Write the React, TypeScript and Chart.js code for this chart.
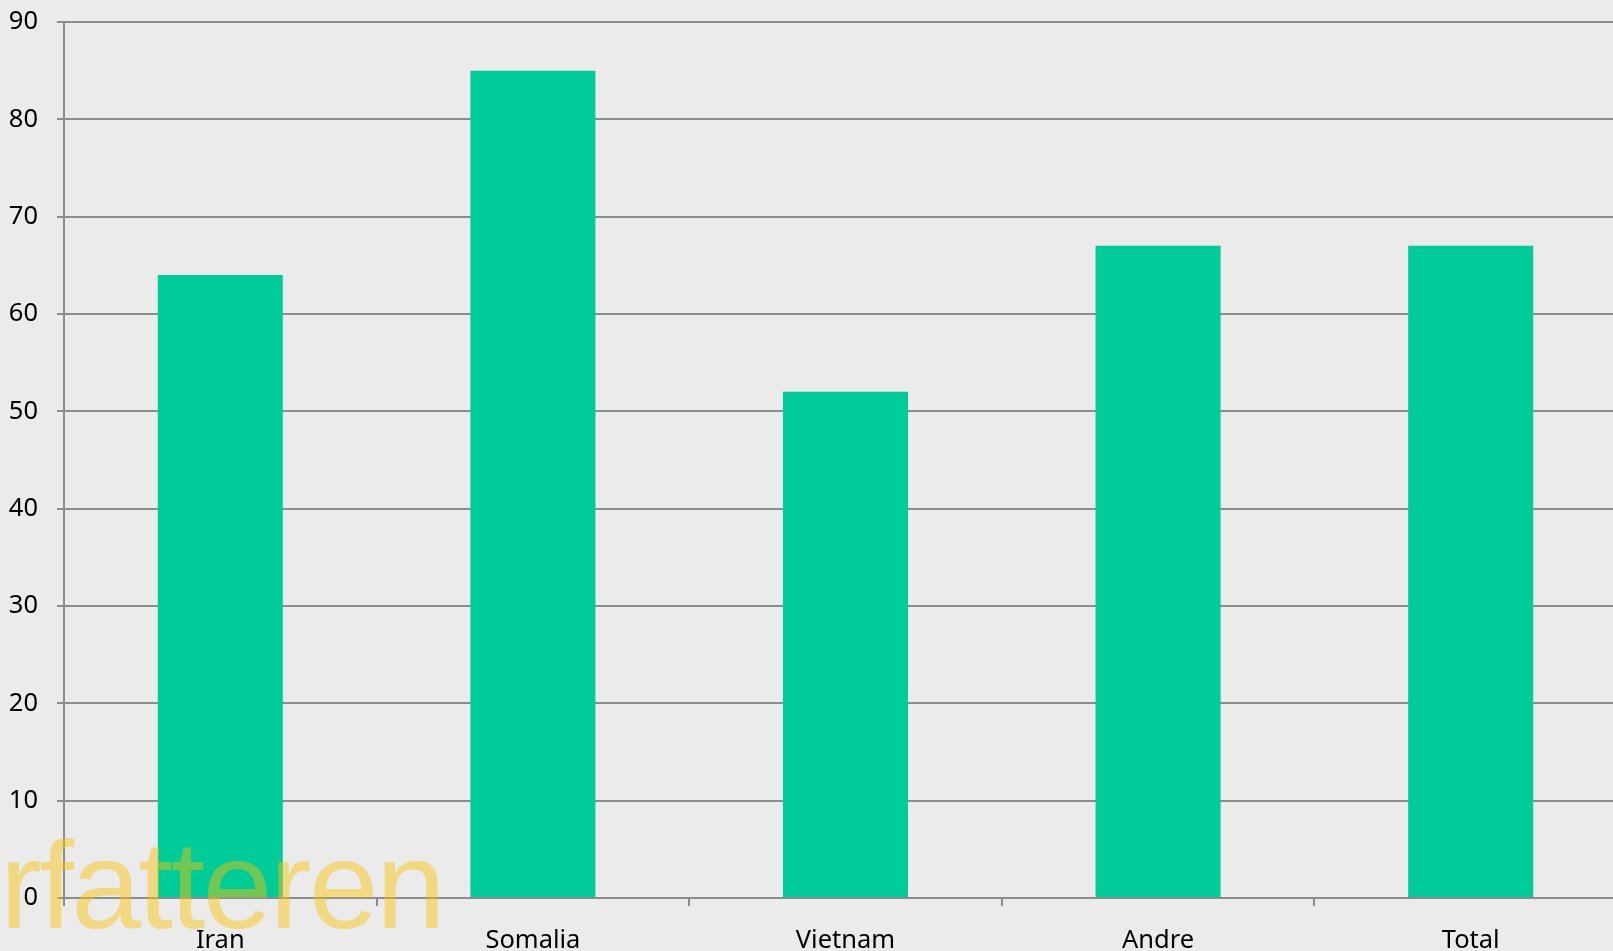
import React, { useEffect, useRef } from "react";
import { Chart, registerables } from "chart.js";

Chart.register(...registerables);

const categories = ["Iran", "Somalia", "Vietnam", "Andre", "Total"];
const values = [64, 85, 52, 67, 67];
const yMin = 0;
const yMax = 90;
const yStep = 10;
const watermark = "rfatteren";

export default function App() {
  const ref = useRef<HTMLCanvasElement | null>(null);

  useEffect(() => {
    document.body.style.margin = "0";
    const ctx = ref.current;
    if (!ctx) return;
    const gridColor = "#8c8c8c";
    const font = { family: "'Noto Sans', 'Open Sans', sans-serif", size: 25.5 };
    const chart = new Chart(ctx, {
      type: "bar",
      data: {
        labels: categories,
        datasets: [
          {
            data: values,
            backgroundColor: "#00cc99",
            borderWidth: 0,
            categoryPercentage: 1,
            barPercentage: 0.4,
          },
        ],
      },
      options: {
        animation: false,
        responsive: false,
        devicePixelRatio: 1,
        layout: { padding: { top: 22, left: 0, right: 0, bottom: 0 } },
        plugins: { legend: { display: false }, tooltip: { enabled: false } },
        scales: {
          x: {
            grid: {
              offset: true,
              drawOnChartArea: false,
              drawTicks: true,
              tickLength: 8,
              color: gridColor,
              lineWidth: 2,
            },
            border: { display: true, color: gridColor, width: 2 },
            ticks: { color: "#000", font, padding: 19, maxRotation: 0 },
            afterFit: (s: any) => {
              s.height = 53;
              s.paddingLeft = 0;
              s.paddingRight = 0;
            },
          },
          y: {
            min: yMin,
            max: yMax,
            grid: { color: gridColor, lineWidth: 2, tickLength: 7 },
            border: { display: true, color: gridColor, width: 2 },
            ticks: { stepSize: yStep, color: "#000", font, padding: 19 },
            afterFit: (s: any) => {
              s.width = 64;
              s.paddingTop = 0;
              s.paddingBottom = 0;
            },
          },
        },
      },
    });
    return () => chart.destroy();
  }, []);

  return (
    <div
      style={{
        position: "fixed",
        left: 0,
        top: 0,
        width: 1613,
        height: 951,
        overflow: "hidden",
        background: "#ebebeb",
      }}
    >
      <canvas ref={ref} width={1627} height={951} style={{ display: "block" }} />
      <div
        style={{
          position: "absolute",
          left: 0,
          top: 822,
          fontFamily: "'Liberation Sans', Arial, sans-serif",
          fontSize: 125,
          letterSpacing: "-2.5px",
          lineHeight: 1,
          color: "rgba(250,192,0,0.45)",
          whiteSpace: "nowrap",
          pointerEvents: "none",
        }}
      >
        {watermark}
      </div>
    </div>
  );
}
